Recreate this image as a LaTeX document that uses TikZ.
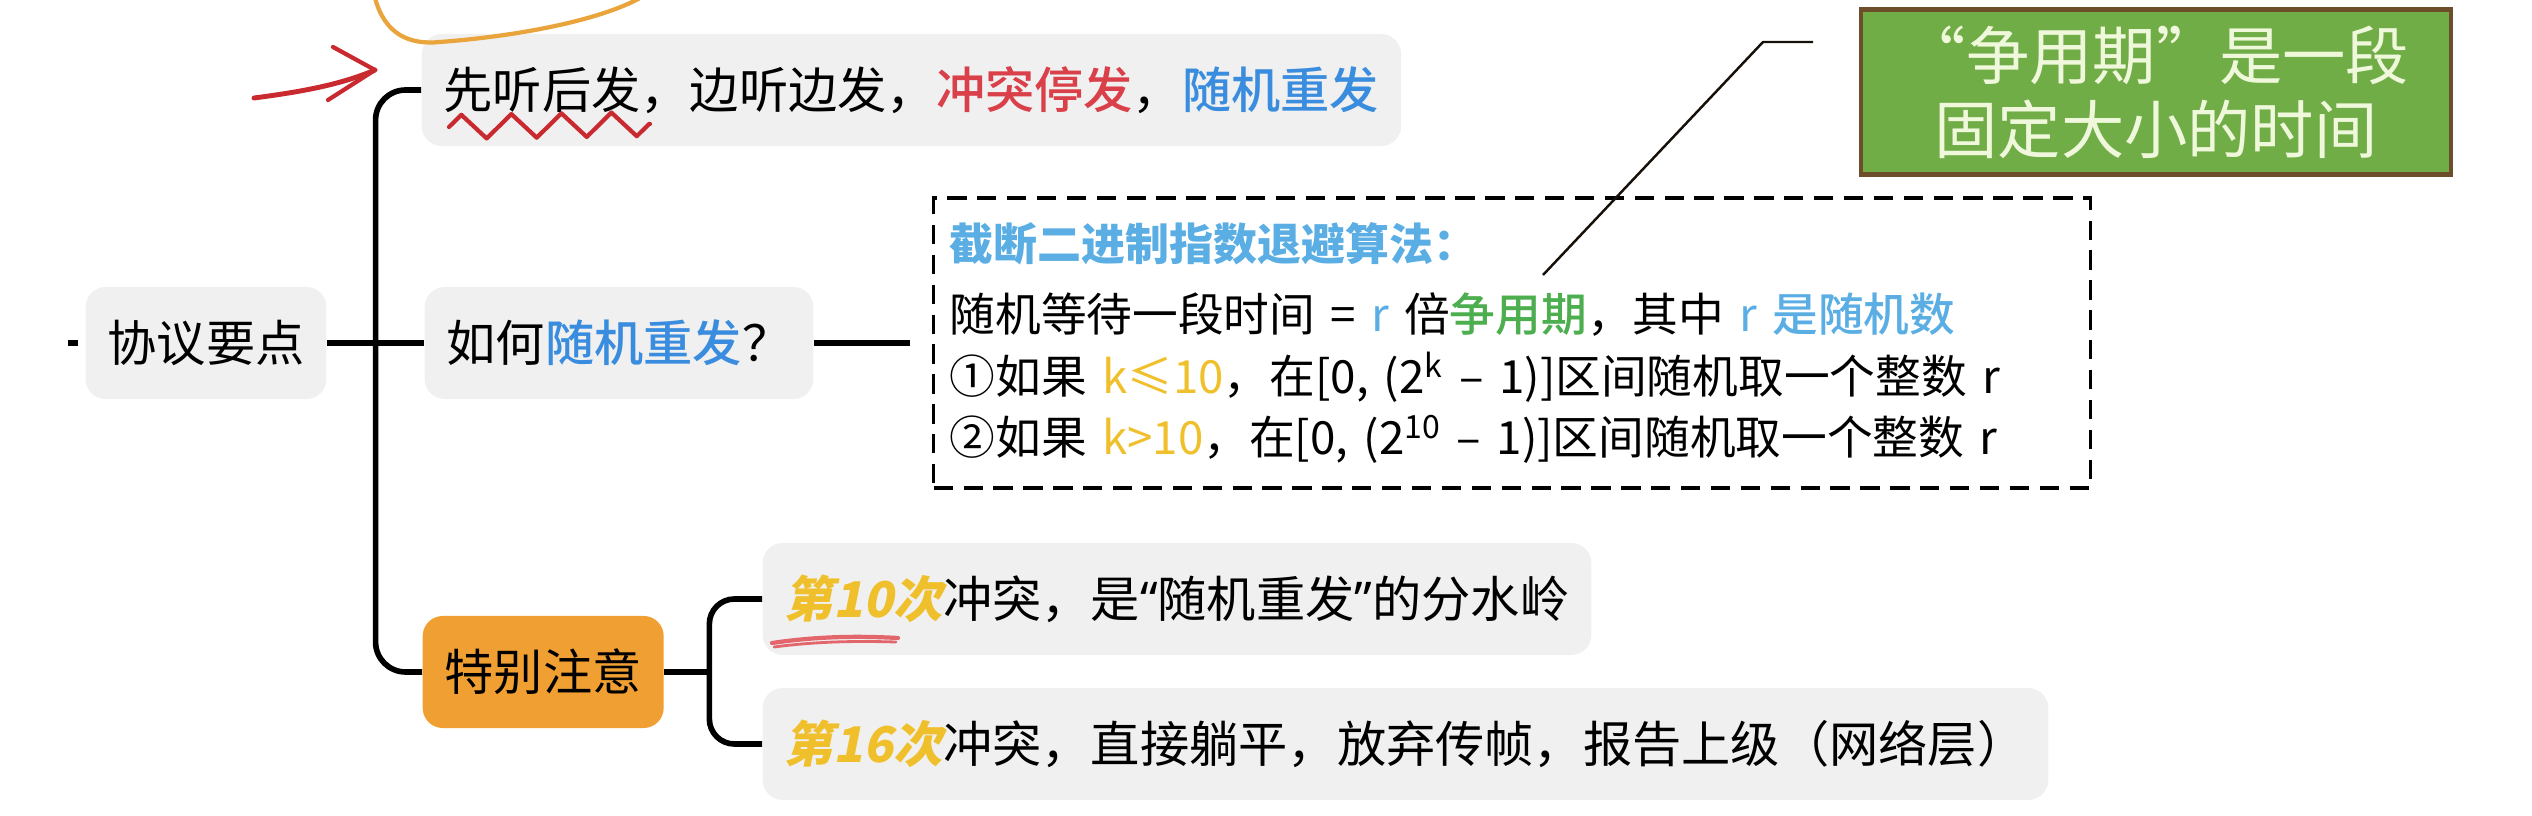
\documentclass[tikz,border=0pt]{standalone}
\usepackage{fontspec}
\setmainfont{Noto Sans CJK SC}
\newfontfamily\slantfont[FakeSlant=0.2]{Noto Sans CJK SC}
\newfontfamily\medfont{Noto Sans CJK SC Medium}
\newfontfamily\latinfont{Noto Sans}
\usepackage{tikz}
\usetikzlibrary{positioning, calc, decorations.pathmorphing}
\definecolor{boxgrey}{HTML}{F0F0F0}
\definecolor{notered}{HTML}{D9404A}
\definecolor{noteblue}{HTML}{3A8DDE}
\definecolor{titleblue}{HTML}{5AAEE3}
\definecolor{notegreen}{HTML}{4DAE50}
\definecolor{noteyellow}{HTML}{F0C02C}
\definecolor{noteorange}{HTML}{F0A032}
\definecolor{callgreen}{HTML}{70AD47}
\definecolor{callbrown}{HTML}{6E4E2A}
\definecolor{calltext}{HTML}{F0F8DC}
\definecolor{penred}{HTML}{C92A30}
\definecolor{penorange}{HTML}{E9A43C}
\newcommand{\mainsize}{\fontsize{14pt}{17pt}\selectfont}
\newcommand{\algosize}{\fontsize{13pt}{18.4pt}\selectfont\lineskiplimit=-20pt}

\begin{document}
\begin{tikzpicture}[
    x=0.01cm, y=-0.01cm,
    topic/.style={fill=#1, rounded corners=0.2cm, minimum height=1.12cm,
                  inner xsep=0.22cm, font=\mainsize},
    topic/.default=boxgrey,
    link/.style={line width=1.6pt, rounded corners=0.3cm},
    pen/.style={draw=#1, line width=1.2pt, line cap=round, line join=round}
]
    \useasboundingbox (0,0) rectangle (2532,816);

    % mind map nodes
    \node[topic] (root) at (206,343) {协议要点};
    \node[topic, anchor=west] (listen) at (421,90)
        {先听后发，边听边发，\textcolor{notered}{\medfont 冲突停发}，\textcolor{noteblue}{\medfont 随机重发}};
    \node[topic, anchor=west] (how) at (424,343) {如何\textcolor{noteblue}{\medfont 随机重发}？};
    \node[topic=noteorange, anchor=west] (special) at (422,672) {特别注意};
    \node[topic, anchor=west] (tenth) at (762,599)
        {\textcolor{noteyellow}{\slantfont\bfseries 第10次}冲突，是{\latinfont “}随机重发{\latinfont ”}的分水岭};
    \node[topic, anchor=west] (sixteenth) at (762,744)
        {\textcolor{noteyellow}{\slantfont\bfseries 第16次}冲突，直接躺平，放弃传帧，报告上级（网络层）};

    \node[draw, dashed, dash pattern=on 5.5pt off 3pt, line width=1pt,
          minimum width=11.56cm, minimum height=2.9cm, inner xsep=0.16cm,
          text width=11.24cm, align=left, font=\algosize] (algo) at (1512,343)
        {{\fontsize{12.5pt}{18.4pt}\selectfont\color{titleblue}\bfseries 截断二进制指数退避算法：}\\[1.8pt]
         随机等待一段时间 = \textcolor{titleblue}{r} 倍\textcolor{notegreen}{\medfont 争用期}，其中 \textcolor{titleblue}{r \medfont 是随机数}\\[-1pt]
         ①如果 \textcolor{noteyellow}{k≤10}，在[0, (2\textsuperscript{k} – 1)]区间随机取一个整数 r\\[-1pt]
         ②如果 \textcolor{noteyellow}{k>10}，在[0, (2\textsuperscript{10} – 1)]区间随机取一个整数 r};

    \node[fill=callgreen, draw=callbrown, line width=1.2pt, minimum width=5.89cm,
          minimum height=1.65cm, align=center, text=calltext,
          font=\fontsize{18pt}{21pt}\selectfont] (period) at (2156,92)
        {“争用期”是一段\\固定大小的时间};

    % connectors
    \coordinate (trunk) at ($(root.east)!0.5!(how.west)$);
    \coordinate (fork) at ($(special.east)+(45,0)$);
    \draw[link] ([xshift=-0.07cm]root.west) -- ++(-10,0);
    \draw[link] (root.east) -- (how.west);
    \draw[link] (listen.west) -| (trunk) |- (special.west);
    \draw[link, shorten >=0.22cm] (how.east) -- (algo.west);
    \draw[link] (special.east) -- (fork);
    \draw[link, rounded corners=0.25cm] (tenth.west) -| (fork) |- (sixteenth.west);

    % leader to the note
    \coordinate (tip) at (1543,275);
    \coordinate (elbow) at (1763,42);
    \coordinate (tail) at (1813,42);
    \draw[line width=0.7pt, draw=black!80!callbrown] (tip) -- (elbow) -- (tail);

    % pen marks
    \draw[pen=penorange] (375,-2) .. controls (385,35) and (410,45) .. (440,42)
        .. controls (520,36) and (600,20) .. (640,-2);
    \draw[pen=penred, line width=1.4pt] (254,98) .. controls (300,92) and (340,85) .. (375,70);
    \draw[pen=penred] (333,47) -- (375,70) -- (328,100);
    \draw[pen=penred, decorate, decoration={zigzag, segment length=0.5cm, amplitude=0.12cm}]
        (449,127) -- (650,124);
    \draw[pen=notered!70!pink] (772,643) .. controls (820,636) and (860,636) .. (898,638);
    \draw[pen=notered!70!pink, line width=0.8pt] (774,647) .. controls (820,641) and (860,641) .. (896,642);
\end{tikzpicture}
\end{document}
